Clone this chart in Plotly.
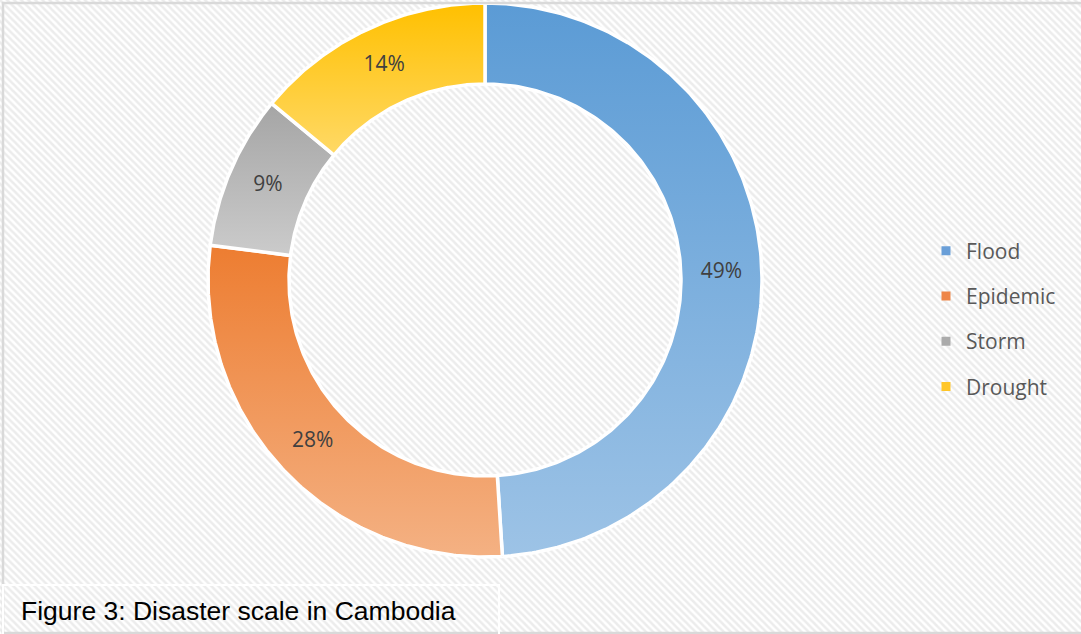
import numpy as np
import plotly.graph_objects as go

# Share of disasters in Cambodia by type (percent)
categories = ["Flood", "Epidemic", "Storm", "Drought"]
shares = [49, 28, 9, 14]
top_colors = ["#5B9BD5", "#ED7D31", "#A5A5A5", "#FFC000"]
bottom_colors = ["#9DC3E6", "#F4B183", "#CBCBCB", "#FFD966"]
legend_colors = ["#6A9FD8", "#EE8648", "#ABABAB", "#FFC629"]
caption = "Figure 3: Disaster scale in Cambodia"

W, H = 1081, 634
CX, CY = 485, 280          # ring centre (pixel space, y downwards)
R_OUT, R_IN = 277, 196     # outer / inner radius

fig = go.Figure()

# hatched chart background
fig.add_trace(go.Scatter(
    x=[0, W, W, 0, 0], y=[0, 0, H, H, 0], mode="lines", fill="toself",
    line=dict(width=0), fillcolor="white",
    fillpattern=dict(shape="\\", fgcolor="#D9D9D9", bgcolor="white", size=5, solidity=0.5),
    hoverinfo="skip", showlegend=False,
))


def sector(a0, a1, n=200):
    """Annular sector between clockwise angles a0..a1 (degrees from 12 o'clock)."""
    t = np.radians(np.linspace(a0, a1, n))
    xo, yo = CX + R_OUT * np.sin(t), CY - R_OUT * np.cos(t)
    xi, yi = CX + R_IN * np.sin(t[::-1]), CY - R_IN * np.cos(t[::-1])
    x = np.concatenate([xo, xi, xo[:1]])
    y = np.concatenate([yo, yi, yo[:1]])
    return x, y


total = sum(shares)
start = 0.0
label_x, label_y = [], []
for name, v, c0, c1 in zip(categories, shares, top_colors, bottom_colors):
    a0 = start
    a1 = start + 360.0 * v / total
    x, y = sector(a0, a1)
    # gradient runs from the lighter tone at the bottom to the deeper tone at the top
    fig.add_trace(go.Scatter(
        x=x, y=y, mode="lines", fill="toself",
        line=dict(color="white", width=3.5),
        fillgradient=dict(type="vertical", colorscale=[[0, c1], [1, c0]]),
        hoverinfo="skip", showlegend=False, name=name,
    ))
    mid = np.radians((a0 + a1) / 2)
    rm = (R_OUT + R_IN) / 2
    label_x.append(CX + rm * np.sin(mid))
    label_y.append(CY - rm * np.cos(mid))
    start = a1

# percentage labels
fig.add_trace(go.Scatter(
    x=label_x, y=label_y, mode="text",
    text=[f"{v}%" for v in shares],
    textfont=dict(family="Open Sans", size=21, color="#404040"),
    hoverinfo="skip", showlegend=False,
))

# legend entries
for i, (name, col) in enumerate(zip(categories, legend_colors)):
    fig.add_trace(go.Scatter(
        x=[None], y=[None], mode="markers", name=name, legendgroup=f"g{i}",
        marker=dict(symbol="square", size=9, color=col),
    ))

# chart frame and caption box
fig.add_shape(type="rect", x0=3, y0=3, x1=W + 10, y1=H - 1,
              line=dict(color="#D9D9D9", width=2.5), layer="above")
fig.add_shape(type="rect", x0=3, y0=585, x1=499, y1=H + 10,
              line=dict(color="white", width=2), layer="above")
fig.add_annotation(
    x=19, y=611, xref="x", yref="y", text=caption, showarrow=False,
    xanchor="left", yanchor="middle",
    font=dict(family="Liberation Sans, Arial", size=26.5, color="black"),
)

fig.update_xaxes(range=[0, W], visible=False, fixedrange=True)
fig.update_yaxes(range=[H, 0], visible=False, fixedrange=True)
fig.update_layout(
    width=W, height=H,
    margin=dict(l=0, r=0, t=0, b=0),
    paper_bgcolor="white", plot_bgcolor="white",
    showlegend=True,
    legend=dict(
        x=926 / W, y=1 - 230.5 / H, xanchor="left", yanchor="top",
        bgcolor="rgba(0,0,0,0)", tracegroupgap=15,
        font=dict(family="Open Sans", size=21, color="#595959"),
        itemclick=False, itemdoubleclick=False,
    ),
)

fig.write_html("out.html")
